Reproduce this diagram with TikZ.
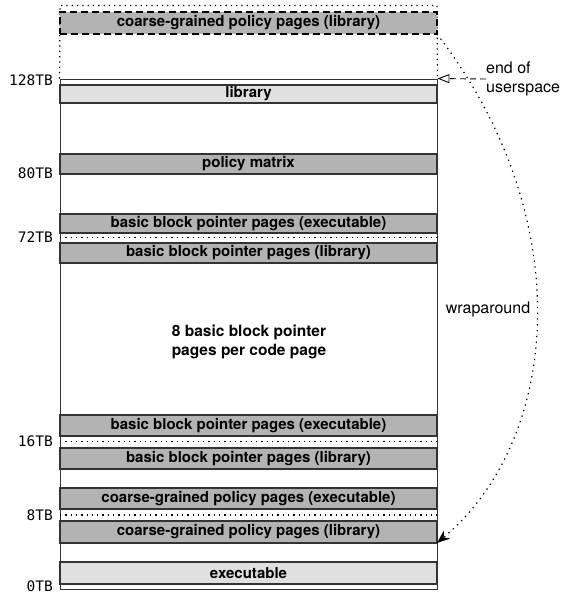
\documentclass[tikz,border=0pt]{standalone}
\usepackage{fontspec}
\setmainfont{TeX Gyre Heros}
\newfontfamily\labelmono{DejaVu Sans Mono}
\usetikzlibrary{arrows.meta}

\definecolor{pagedark}{HTML}{B3B3B3}
\definecolor{pagelight}{HTML}{E0E0E0}
\definecolor{edgegray}{HTML}{333333}

\tikzset{
    band/.style={draw=edgegray, line width=1.1pt, minimum width=377pt, inner sep=0pt, outer sep=0pt,
        fill=pagedark, font=\fontsize{15}{17}\selectfont\bfseries},
    lightband/.style={band, fill=pagelight},
    sepline/.style={line width=1.2pt, dash pattern=on 1.3pt off 4pt},
    addr/.style={anchor=east, inner sep=0pt, font=\labelmono\fontsize{14.5}{16}\selectfont},
    note/.style={font=\fontsize{16}{19}\selectfont}
}

\begin{document}
\begin{tikzpicture}[x=1pt, y=-1pt]
    \useasboundingbox (0,0) rectangle (567,594);

    % address space
    \node[draw=edgegray, line width=0.9pt, minimum width=377pt, minimum height=510pt, inner sep=0pt] (mem) at (248.5,334) {};
    \draw[sepline] (mem.north west) -- (60,5.5) -- (437,5.5) -- (mem.north east);

    % pages
    \node[band, draw=black, dash pattern=on 7pt off 4pt, minimum height=22pt] (cgtop) at (248.5,23) {coarse-grained policy pages (library)};
    \node[lightband, minimum height=18pt] (lib) at (248.5,94) {library};
    \node[band, minimum height=20pt] (pm) at (248.5,164) {policy matrix};
    \node[band, minimum height=19pt] (bbpexeA) at (248.5,223.5) {basic block pointer pages (executable)};
    \node[band, minimum height=20pt] (bbplibA) at (248.5,253) {basic block pointer pages (library)};
    \node[band, minimum height=21pt] (bbpexeB) at (248.5,425.5) {basic block pointer pages (executable)};
    \node[band, minimum height=21pt] (bbplibB) at (248.5,458.5) {basic block pointer pages (library)};
    \node[band, minimum height=21pt] (cgpexe) at (248.5,498.5) {coarse-grained policy pages (executable)};
    \node[band, minimum height=22pt] (cgplib) at (248.5,532) {coarse-grained policy pages (library)};
    \node[lightband, minimum height=22pt] (exe) at (248.5,573) {executable};

    \node[align=center, font=\fontsize{15.5}{19}\selectfont\bfseries] (perpage) at (249,342) {8 basic block pointer\\pages per code page};

    % boundaries
    \foreach \y/\lbl in {237.5/72TB, 441.5/16TB, 515/8TB}{
        \draw[sepline] (60,\y) -- (437,\y);
        \node[addr] at (53,\y) {\lbl};
    }
    \draw[line width=0.9pt, draw=edgegray] (60,79) -- (437,79);
    \node[addr] at (53,80) {128TB};
    \node[addr] at (53,173) {80TB};
    \node[addr, anchor=base east] at (53,591) {0TB};

    % annotations
    \node[note, anchor=west, align=left, inner sep=0pt] (endus) at (486,79) {end of\\userspace};
    \draw[dash pattern=on 6pt off 4pt, line width=0.9pt, -{Triangle[open, length=12pt, width=9pt]}] (endus.west) -- (mem.north east);

    \node[note, inner sep=0pt] (wrap) at (488,309) {wraparound};
    \draw[line width=1.2pt, dash pattern=on 1.3pt off 4.5pt, -{Stealth[length=13pt, width=10pt]}] (cgtop.south east) .. controls (580,220) and (560,440) .. (cgplib.south east);
\end{tikzpicture}
\end{document}
